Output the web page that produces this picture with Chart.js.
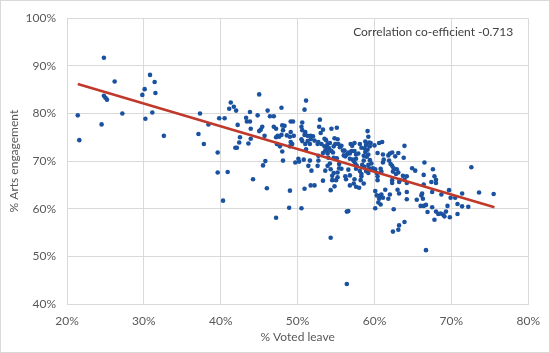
<!DOCTYPE html>
<html>
<head>
<meta charset="utf-8">
<script src="https://cdn.jsdelivr.net/npm/chart.js@4/dist/chart.umd.min.js"></script>
<style>
  body { margin: 0; background: #fff; }
</style>
</head>
<body>
<canvas id="js--chart" width="550" height="353"></canvas>
<script>
// % voted leave per local authority (x)
const leaveVotes = [
  21.4, 21.6, 24.5, 24.8, 24.8, 25.0, 25.2, 26.2, 27.2, 29.8, 30.1, 30.8, 31.4, 31.5, 30.2, 31.1, 32.6,
  37.3, 37.1, 37.8, 38.4, 39.6, 39.6, 39.8, 40.3, 40.5,
  40.9, 41.3, 41.1, 41.7, 42.0, 42.2, 42.5, 42.4, 41.9, 42.1, 43.3, 43.8, 43.8, 43.4, 43.9, 43.6, 43.9,
  45.0, 44.8, 45.0, 45.2, 45.4, 45.7, 46.1, 46.4, 46.9, 46.9, 47.2, 45.8, 45.5, 44.2, 47.4, 47.2, 47.3,
  46.0, 47.2, 48.9, 50.5, 49.0, 47.9, 48.0, 48.3, 48.1, 49.1, 49.4, 49.1, 48.6, 49.0, 49.5, 47.9, 47.6,
  49.1, 49.3, 47.7, 49.0, 48.0, 48.1, 49.7, 50.1, 50.2,
  51.1, 50.9, 50.6, 50.5, 50.6, 51.0, 50.9, 50.5, 50.6, 51.3, 51.7, 52.0, 51.7, 51.3, 51.6, 51.0, 51.1,
  52.2, 52.9, 52.8, 53.0, 53.3, 52.7, 53.1, 52.6, 53.7, 53.9, 53.5, 54.4, 55.1, 54.8, 55.2, 54.9, 55.3,
  55.5, 54.1, 54.4, 54.6, 56.1, 56.4, 56.6, 56.8, 56.2, 56.9, 57.1, 57.4, 57.4, 57.6, 57.9, 57.6, 56.8,
  57.3, 50.8, 51.6, 52.7, 53.9, 54.0, 54.7, 55.1, 55.4, 55.7, 55.2, 55.2, 54.2, 54.3, 54.7, 54.5, 55.0,
  54.5, 54.8, 54.3, 53.3, 53.6, 53.9, 53.3, 53.6, 51.4, 51.8, 52.6, 53.9, 51.7, 52.2, 50.9, 52.7, 54.3,
  56.4, 56.6, 56.4, 55.4, 56.2, 56.3, 56.8, 56.8, 57.3, 57.6, 57.4, 58.0, 56.6, 57.6, 58.1, 58.3, 58.3,
  58.6, 57.0, 55.9, 56.0, 57.2, 57.5, 57.7, 53.5, 53.8, 54.2, 54.7, 55.7, 58.1,
  59.1, 59.2, 58.8, 59.3, 59.5, 58.9, 59.4, 58.7, 59.1, 58.8, 59.2, 59.0, 58.6, 59.4, 59.2, 59.6, 58.7,
  59.3, 58.9, 59.2, 60.0, 60.6, 61.0, 60.4, 61.1, 61.8, 62.0, 62.3, 62.7, 63.1, 63.9, 63.8, 61.2, 61.1,
  61.9, 62.1, 62.3, 62.5, 62.9, 62.4, 62.8, 63.1, 63.7, 64.2, 63.9, 63.3, 62.3, 63.2, 60.3, 60.4, 60.4,
  60.1, 59.8, 60.9, 60.1, 60.3, 60.6, 60.7, 61.1, 60.5, 60.8, 60.1, 60.9, 61.4, 61.8, 62.0, 62.3, 63.0,
  63.2, 62.5, 64.2, 64.2, 63.9, 63.2, 63.1, 62.4, 58.3, 58.2, 60.8, 58.6, 58.4,
  64.9, 65.3, 66.5, 66.4, 67.6, 67.8, 68.0, 67.4, 66.4, 65.5, 66.1, 66.3, 66.2, 66.0, 66.4, 66.7, 66.9,
  67.5, 67.5, 68.0, 68.3, 68.9, 69.1, 68.6, 67.8, 68.7, 69.7, 69.9, 70.5, 69.5, 69.3, 69.8, 70.8, 71.4,
  70.8, 68.0, 66.7, 71.4, 72.2, 72.6, 73.6, 75.5, 64.2
];

// % arts engagement for the same authorities (y)
const artsEngagement = [
  79.6, 74.4, 77.7, 91.7, 83.7, 83.3, 82.9, 86.7, 80.0, 83.9, 85.1, 88.1, 86.6, 84.3, 78.9, 80.2, 75.3,
  80.0, 75.7, 73.6, 77.7, 71.8, 67.6, 79.0, 61.7, 79.0,
  67.7, 82.3, 81.0, 81.4, 80.6, 77.6, 75.0, 73.9, 72.8, 72.8, 79.1, 80.3, 78.3, 78.3, 76.8, 73.7, 74.7,
  84.0, 79.6, 76.3, 76.6, 77.2, 75.3, 80.6, 79.4, 79.4, 77.2, 76.8, 70.0, 69.1, 66.2, 75.3, 75.0, 73.6,
  64.3, 58.1, 60.2, 60.1, 63.8, 81.2, 77.5, 77.4, 76.5, 78.3, 78.3, 76.1, 75.4, 75.1, 75.3, 75.5, 75.1,
  74.0, 73.6, 73.1, 73.1, 72.0, 70.1, 69.7, 70.5, 69.9,
  82.7, 80.8, 78.1, 77.2, 76.5, 76.1, 75.5, 74.6, 74.2, 75.3, 75.3, 75.2, 74.6, 74.2, 73.6, 73.6, 72.5,
  74.3, 78.7, 77.2, 75.9, 76.6, 74.0, 73.6, 73.6, 74.4, 73.6, 73.1, 76.8, 77.0, 74.8, 74.6, 73.6, 73.6,
  72.9, 72.7, 72.1, 71.8, 72.2, 71.4, 71.8, 71.6, 71.0, 73.6, 73.2, 73.8, 72.1, 71.4, 71.6, 70.5, 70.5,
  70.0, 70.3, 70.1, 70.1, 72.0, 70.7, 70.7, 70.6, 69.4, 68.4, 67.6, 66.6, 69.5, 68.3, 67.5, 66.9, 66.0,
  66.0, 64.7, 63.9, 71.7, 72.2, 71.6, 65.9, 68.0, 69.0, 68.0, 69.0, 69.0, 64.9, 64.9, 64.2, 71.1, 53.9,
  59.4, 59.5, 44.2, 68.5, 66.8, 66.2, 67.0, 64.9, 65.3, 64.6, 66.2, 64.4, 68.2, 68.4, 67.9, 67.3, 66.8,
  65.3, 72.1, 72.2, 71.2, 70.3, 69.5, 69.0, 74.7, 72.9, 73.8, 73.1, 73.2, 73.6,
  76.3, 75.1, 74.1, 73.9, 73.8, 73.4, 73.1, 72.7, 72.4, 71.9, 71.4, 70.9, 70.1, 70.2, 69.2, 69.5, 68.8,
  68.5, 67.9, 67.5, 73.3, 73.8, 74.0, 71.7, 71.4, 71.2, 71.6, 71.8, 71.0, 71.7, 73.2, 70.7, 70.3, 69.7,
  70.1, 69.4, 69.0, 68.5, 68.3, 67.8, 67.3, 67.6, 66.9, 66.8, 66.1, 66.0, 66.0, 65.6, 67.5, 66.8, 66.0,
  68.3, 68.5, 67.8, 63.7, 62.8, 62.1, 62.7, 62.3, 61.3, 60.9, 60.1, 63.0, 64.0, 62.1, 63.0, 65.4, 64.0,
  63.2, 59.9, 63.5, 62.0, 57.2, 56.5, 55.6, 55.2, 72.8, 66.0, 68.4, 71.1, 69.2,
  68.5, 68.0, 69.7, 67.1, 68.3, 66.8, 66.1, 65.6, 65.1, 61.9, 62.8, 62.1, 63.2, 60.6, 60.6, 60.8, 59.3,
  63.5, 60.3, 59.4, 58.9, 58.8, 58.4, 59.0, 57.7, 63.0, 63.9, 62.3, 62.3, 60.6, 59.4, 58.2, 61.0, 60.5,
  58.9, 65.4, 51.3, 63.2, 60.4, 68.7, 63.4, 63.1, 65.4
];

// linear trend line, end points
const trendX = [21.4, 75.6];
const trendY = [86.2, 60.3];

const xTicks = [20, 30, 40, 50, 60, 70, 80];
const yTicks = [40, 50, 60, 70, 80, 90, 100];

const correlationText = "Correlation co-efficient -0.713";

const fontName = "Lato";
const labelColor = "#595959";
const gridColor = "#d9d9d9";

let points = [];
for (let i = 0; i < leaveVotes.length; i++) {
  points.push({ x: leaveVotes[i], y: artsEngagement[i] });
}
let trend = [];
for (let i = 0; i < trendX.length; i++) {
  trend.push({ x: trendX[i], y: trendY[i] });
}

// white background, outer frame and the correlation note
const framePlugin = {
  id: "frame",
  beforeDraw: function(chart) {
    const ctx = chart.ctx;
    ctx.save();
    ctx.fillStyle = "#ffffff";
    ctx.fillRect(0, 0, chart.width, chart.height);
    ctx.strokeStyle = gridColor;
    ctx.lineWidth = 1;
    ctx.strokeRect(0.5, 0.5, chart.width - 1, chart.height - 1);
    ctx.restore();
  },
  afterDraw: function(chart) {
    const ctx = chart.ctx;
    ctx.save();
    ctx.font = "12px " + fontName;
    ctx.fillStyle = "#404040";
    ctx.textAlign = "right";
    ctx.textBaseline = "middle";
    ctx.fillText(correlationText, chart.chartArea.right - 15, 32);
    ctx.restore();
  }
};

const config = {
  type: "scatter",
  data: {
    datasets: [
      {
        label: "authorities",
        data: points,
        pointRadius: 2.3,
        pointBackgroundColor: "#1a52a0",
        pointBorderColor: "#1a52a0",
        pointBorderWidth: 0,
        order: 2
      },
      {
        label: "trend",
        data: trend,
        showLine: true,
        borderColor: "#c0392b",
        borderWidth: 2.5,
        pointRadius: 0,
        order: 1
      }
    ]
  },
  options: {
    responsive: false,
    animation: false,
    devicePixelRatio: 1,
    layout: { padding: { left: 0, right: 19, top: 11, bottom: 0 } },
    plugins: {
      legend: { display: false },
      tooltip: { enabled: false }
    },
    scales: {
      x: {
        type: "linear",
        min: 20,
        max: 80,
        afterBuildTicks: function(scale) {
          scale.ticks = xTicks.map(function(v) { return { value: v }; });
        },
        afterFit: function(scale) { scale.height = 49; },
        grid: { color: gridColor, drawTicks: false },
        border: { color: gridColor },
        ticks: {
          padding: 10,
          color: labelColor,
          font: { family: fontName, size: 12 },
          callback: function(v) { return v + "%"; }
        },
        title: {
          display: true,
          text: "% Voted leave",
          color: labelColor,
          font: { family: fontName, size: 12 },
          padding: { top: 0, bottom: 9 }
        }
      },
      y: {
        type: "linear",
        min: 40,
        max: 100,
        afterBuildTicks: function(scale) {
          scale.ticks = yTicks.map(function(v) { return { value: v }; });
        },
        afterFit: function(scale) { scale.width = 67; },
        grid: { color: gridColor, drawTicks: false },
        border: { color: gridColor },
        ticks: {
          padding: 11,
          color: labelColor,
          font: { family: fontName, size: 12 },
          callback: function(v) { return v + "%"; }
        },
        title: {
          display: true,
          text: "% Arts engagement",
          color: labelColor,
          font: { family: fontName, size: 12 },
          padding: { top: 7, bottom: 0 }
        }
      }
    }
  },
  plugins: [framePlugin]
};

const chart1 = new Chart(document.getElementById("js--chart"), config);
</script>
</body>
</html>
